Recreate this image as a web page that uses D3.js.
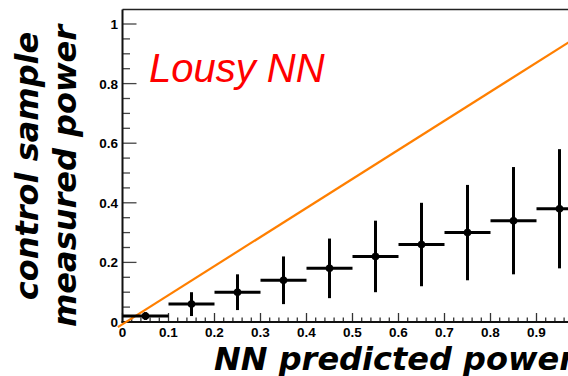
<!DOCTYPE html>
<html>
<head>
<meta charset="utf-8">
<script src="https://cdn.jsdelivr.net/npm/d3@7"></script>
<style>
  body { margin: 0; background: #fff; }
  svg { display: block; }
</style>
</head>
<body>
<div id="plot"></div>
<script>
// binned measurements: NN predicted vs control sample measured
const binCenters = [0.05, 0.15, 0.25, 0.35, 0.45, 0.55, 0.65, 0.75, 0.85, 0.95];
const binHalfWidth = [0.05, 0.05, 0.05, 0.05, 0.05, 0.05, 0.05, 0.05, 0.05, 0.05];
const measured = [0.02, 0.06, 0.10, 0.14, 0.18, 0.22, 0.26, 0.30, 0.34, 0.38];
const measuredErr = [0.013, 0.04, 0.06, 0.08, 0.10, 0.12, 0.14, 0.16, 0.18, 0.20];

// reference line (orange)
const refLineX = [-0.01, 1.0];
const refLineY = [-0.017, 0.968];

const xTickLabels = ['0', '0.1', '0.2', '0.3', '0.4', '0.5', '0.6', '0.7', '0.8', '0.9'];
const yTickLabels = ['0', '0.2', '0.4', '0.6', '0.8', '1'];

const width = 568;
const height = 376;
const padLeft = 122.5;
const padBottom = 322;
const frameTop = 9.5;

const x = d3.scaleLinear().domain([0, 1]).range([padLeft, padLeft + 460]);
const y = d3.scaleLinear().domain([0, 1]).range([padBottom, padBottom - 298]);
const yMax = y.invert(frameTop);

const svg = d3.select('#plot')
  .append('svg')
    .attr('width', width)
    .attr('height', height);

// frame top
svg.append('line')
  .attr('x1', padLeft).attr('x2', x(1))
  .attr('y1', frameTop).attr('y2', frameTop)
  .attr('stroke', '#222').attr('stroke-width', 1.5);

// x ticks (inside, pointing up)
const xMinor = d3.range(0, 51).map(i => i * 0.02);
svg.append('g').selectAll('line')
  .data(xMinor)
  .enter().append('line')
    .attr('x1', d => x(d)).attr('x2', d => x(d))
    .attr('y1', padBottom)
    .attr('y2', (d, i) => i % 5 === 0 ? padBottom - 9 : padBottom - 4.5)
    .attr('stroke', '#333').attr('stroke-width', 1.3);

// y ticks (inside, pointing right)
const yMinor = d3.range(0, 21).map(i => i * 0.05).filter(v => v <= yMax);
svg.append('g').selectAll('line')
  .data(yMinor)
  .enter().append('line')
    .attr('y1', d => y(d)).attr('y2', d => y(d))
    .attr('x1', padLeft)
    .attr('x2', (d, i) => i % 4 === 0 ? padLeft + 14 : padLeft + 7.5)
    .attr('stroke', '#444').attr('stroke-width', 1.3);

svg.append('line')
  .attr('x1', padLeft).attr('x2', padLeft)
  .attr('y1', frameTop).attr('y2', padBottom + 1)
  .attr('stroke', '#111').attr('stroke-width', 2);
svg.append('line')
  .attr('x1', padLeft - 1).attr('x2', x(1))
  .attr('y1', padBottom).attr('y2', padBottom)
  .attr('stroke', '#111').attr('stroke-width', 2);

// tick labels
svg.append('g').selectAll('text')
  .data(xTickLabels)
  .enter().append('text')
    .attr('x', d => x(+d))
    .attr('y', 337)
    .attr('text-anchor', 'middle')
    .style('font-family', 'Liberation Sans, Arial, sans-serif')
    .style('font-weight', 'bold')
    .style('font-size', '13.5px')
    .text(d => d);

svg.append('g').selectAll('text')
  .data(yTickLabels)
  .enter().append('text')
    .attr('x', 118)
    .attr('y', d => y(+d) + 5)
    .attr('text-anchor', 'end')
    .style('font-family', 'Liberation Sans, Arial, sans-serif')
    .style('font-weight', 'bold')
    .style('font-size', '13.5px')
    .text(d => d);

// orange reference line
svg.append('line')
  .attr('x1', x(refLineX[0])).attr('y1', y(refLineY[0]))
  .attr('x2', x(refLineX[1])).attr('y2', y(refLineY[1]))
  .attr('stroke', '#ff7f00').attr('stroke-width', 2.2);

// data points with error bars
const pts = binCenters.map((c, i) => ({
  x: c, dx: binHalfWidth[i], y: measured[i], dy: measuredErr[i]
}));

const g = svg.append('g');
g.selectAll('line.h')
  .data(pts)
  .enter().append('line')
    .attr('class', 'h')
    .attr('x1', d => x(d.x - d.dx)).attr('x2', d => x(d.x + d.dx))
    .attr('y1', d => y(d.y)).attr('y2', d => y(d.y))
    .attr('stroke', '#000').attr('stroke-width', 3);
g.selectAll('line.v')
  .data(pts)
  .enter().append('line')
    .attr('class', 'v')
    .attr('x1', d => x(d.x)).attr('x2', d => x(d.x))
    .attr('y1', d => y(d.y - d.dy)).attr('y2', d => y(d.y + d.dy))
    .attr('stroke', '#000').attr('stroke-width', 3);
g.selectAll('circle')
  .data(pts)
  .enter().append('circle')
    .attr('cx', d => x(d.x))
    .attr('cy', d => y(d.y))
    .attr('r', 3.8)
    .attr('fill', '#000');

// label
svg.append('text')
  .attr('x', 149)
  .attr('y', 82)
  .style('font-family', 'Liberation Sans, Arial, sans-serif')
  .style('font-style', 'italic')
  .style('font-size', '40px')
  .attr('fill', '#ff0000')
  .text('Lousy NN');

// axis titles
svg.append('text')
  .attr('x', 214)
  .attr('y', 370)
  .style('font-family', 'DejaVu Sans, sans-serif')
  .style('font-weight', 'bold')
  .style('font-style', 'italic')
  .style('font-size', '32px')
  .text('NN predicted power');

const yTitle = svg.append('g')
  .attr('transform', 'rotate(-90)');
yTitle.append('text')
  .attr('x', -166).attr('y', 38)
  .attr('text-anchor', 'middle')
  .style('font-family', 'DejaVu Sans, sans-serif')
  .style('font-weight', 'bold')
  .style('font-style', 'italic')
  .style('font-size', '32px')
  .text('control sample');
yTitle.append('text')
  .attr('x', -176).attr('y', 76)
  .attr('text-anchor', 'middle')
  .style('font-family', 'DejaVu Sans, sans-serif')
  .style('font-weight', 'bold')
  .style('font-style', 'italic')
  .style('font-size', '32px')
  .text('measured power');
</script>
</body>
</html>
